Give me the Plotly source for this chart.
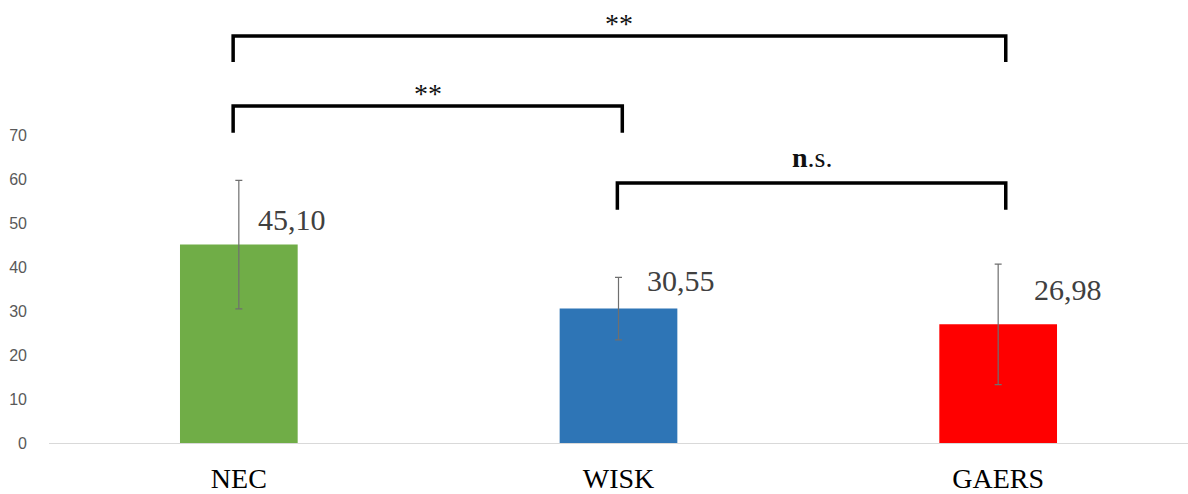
import plotly.graph_objects as go

categories = ["NEC", "WISK", "GAERS"]
means = [45.10, 30.55, 26.98]
errors = [14.6, 7.1, 13.7]
value_labels = ["45,10", "30,55", "26,98"]
bar_colors = ["#70AD47", "#2E75B6", "#FF0000"]
y_ticks = [0, 10, 20, 30, 40, 50, 60, 70]

# significance brackets: (left index, right index, bar height, leg bottom, label, label y)
brackets = [
    (-0.015, 2.02, 92.5, 86.6, "**", 95.3),
    (-0.015, 1.01, 76.6, 70.5, "**", 79.5),
    (0.997, 2.02, 59.1, 53.0, "<b>n</b>.s.", 65.0),
]

fig = go.Figure()
fig.add_trace(go.Bar(
    x=categories, y=means,
    marker=dict(color=bar_colors, line=dict(width=0)),
    width=0.31,
    error_y=dict(type="data", array=errors, visible=True,
                 color="#6f6f6f", thickness=1.2, width=3.5),
    showlegend=False,
))

# value labels
label_pos = [(0, 50.7, 17), (1, 37.0, 26), (2, 34.8, 34)]
for (i, yv, xs), txt in zip(label_pos, value_labels):
    fig.add_annotation(x=i, y=yv, text=txt, showarrow=False, xanchor="left",
                       xshift=xs, yanchor="middle",
                       font=dict(family="Liberation Serif", size=30, color="#404040"))

for (x0, x1, yh, yb, lab, ly) in brackets:
    fig.add_shape(type="path",
                  path=f"M {x0},{yb} L {x0},{yh} L {x1},{yh} L {x1},{yb}",
                  xref="x", yref="y", line=dict(color="black", width=3.5))
    fig.add_annotation(x=(x0 + x1) / 2, y=ly, text=lab, showarrow=False,
                       yanchor="middle",
                       font=dict(family="Liberation Serif", size=28, color="#111111"))

fig.update_layout(
    width=1188, height=494,
    margin=dict(l=49, r=0, t=0, b=51),
    paper_bgcolor="white", plot_bgcolor="white",
    bargap=0.69,
    xaxis=dict(type="category", showline=True, linecolor="#D9D9D9", linewidth=1,
               showgrid=False, ticks="", ticklabelstandoff=10, automargin=False,
               tickfont=dict(family="Liberation Serif", size=28, color="black"),
               range=[-0.5, 2.5]),
    yaxis=dict(range=[0, 100.7], tickvals=y_ticks, showgrid=False, zeroline=False,
               showline=False, ticks="", ticklabelstandoff=21, automargin=False,
               tickfont=dict(family="Liberation Sans", size=16, color="#595959")),
)

fig.write_html("out.html", config={"displayModeBar": False},
               post_script="document.body.style.margin='0';document.body.style.overflow='hidden';")
